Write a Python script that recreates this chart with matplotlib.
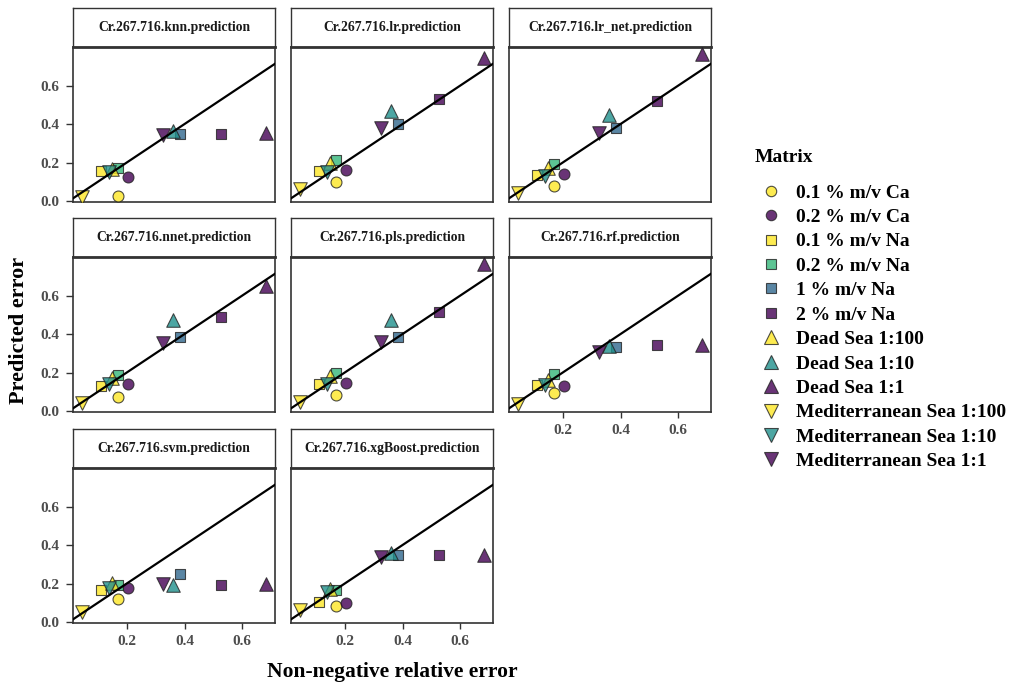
import numpy as np
import matplotlib
matplotlib.use("Agg")
import matplotlib.pyplot as plt
from matplotlib.lines import Line2D

plt.rcParams["font.family"] = ["Liberation Serif", "DejaVu Serif"]
plt.rcParams["font.weight"] = "bold"

# legend order of the matrices
matrices = [
    "0.1 % m/v Ca", "0.2 % m/v Ca",
    "0.1 % m/v Na", "0.2 % m/v Na", "1 % m/v Na", "2 % m/v Na",
    "Dead Sea 1:100", "Dead Sea 1:10", "Dead Sea 1:1",
    "Mediterranean Sea 1:100", "Mediterranean Sea 1:10", "Mediterranean Sea 1:1",
]

# non-negative relative error (x), same for every model
rel_error = [0.169, 0.203, 0.112, 0.170, 0.385, 0.525,
             0.150, 0.360, 0.682, 0.044, 0.140, 0.324]

models = ["knn", "lr", "lr_net", "nnet", "pls", "rf", "svm", "xgBoost"]

# predicted error (y) per model, same order as matrices
pred_knn = [0.026, 0.126, 0.155, 0.169, 0.347, 0.346, 0.168, 0.363, 0.354, 0.022, 0.149, 0.342]
pred_lr = [0.100, 0.161, 0.157, 0.212, 0.402, 0.532, 0.195, 0.468, 0.745, 0.062, 0.152, 0.377]
pred_lr_net = [0.078, 0.140, 0.135, 0.190, 0.377, 0.518, 0.169, 0.449, 0.765, 0.040, 0.130, 0.351]
pred_nnet = [0.074, 0.138, 0.130, 0.187, 0.382, 0.489, 0.169, 0.472, 0.648, 0.043, 0.143, 0.354]
pred_pls = [0.083, 0.147, 0.140, 0.199, 0.385, 0.515, 0.181, 0.472, 0.765, 0.045, 0.143, 0.359]
pred_rf = [0.092, 0.130, 0.135, 0.190, 0.333, 0.342, 0.161, 0.337, 0.345, 0.035, 0.135, 0.307]
pred_svm = [0.122, 0.177, 0.165, 0.194, 0.251, 0.190, 0.203, 0.194, 0.198, 0.053, 0.177, 0.198]
pred_xgb = [0.085, 0.099, 0.103, 0.168, 0.346, 0.346, 0.173, 0.358, 0.350, 0.064, 0.154, 0.336]

predictions = [pred_knn, pred_lr, pred_lr_net, pred_nnet, pred_pls, pred_rf, pred_svm, pred_xgb]

# viridis-like fills and ggplot-ish shapes
fills = ["#FDE725", "#440154",
         "#FDE725", "#35B779", "#31688E", "#440154",
         "#FDE725", "#21908C", "#440154",
         "#FDE725", "#21908C", "#440154"]
shapes = ["o", "o", "s", "s", "s", "s", "^", "^", "^", "v", "v", "v"]
sizes = {"o": 62, "s": 62, "^": 95, "v": 95}

W, H = 1030, 686
fig = plt.figure(figsize=(W / 100, H / 100), dpi=100)

col_left = [73, 291, 509]
strip_top = [8, 218, 429]
pw, strip_h, ph = 202, 39, 155
border = "#333333"


def fig_rect(x, y_top, w, h):
    return [x / W, (H - y_top - h) / H, w / W, h / H]


for i, (model, yv) in enumerate(zip(models, predictions)):
    r, c = divmod(i, 3)
    x0, st = col_left[c], strip_top[r]

    sax = fig.add_axes(fig_rect(x0, st, pw, strip_h))
    sax.set_xticks([])
    sax.set_yticks([])
    for sp in sax.spines.values():
        sp.set_color(border)
        sp.set_linewidth(1.0)
    sax.text(0.5, 0.5, f"Cr.267.716.{model}.prediction", ha="center", va="center",
             fontsize=9.8, color="#1a1a1a", transform=sax.transAxes)

    ax = fig.add_axes(fig_rect(x0, st + strip_h, pw, ph))
    for x, y, f, m in zip(rel_error, yv, fills, shapes):
        ax.scatter(x, y, s=sizes[m], marker=m, c=f, alpha=0.8,
                   edgecolors="#222222", linewidths=0.8, zorder=3)
    ax.axline((0, 0), slope=1, color="black", linewidth=1.6, zorder=4)

    ax.set_xlim(0.014, 0.713)
    ax.set_ylim(-0.005, 0.80)
    ax.set_xticks([0.2, 0.4, 0.6])
    ax.set_yticks([0.0, 0.2, 0.4, 0.6])
    for sp in ax.spines.values():
        sp.set_color(border)
        sp.set_linewidth(1.2)
    ax.spines["top"].set_linewidth(2.0)

    show_y = c == 0
    show_x = (i + 3) >= len(models)
    ax.tick_params(axis="y", length=5 if show_y else 0, width=1, color=border,
                   labelleft=show_y, labelsize=11, labelcolor="#4D4D4D", pad=4.5)
    ax.tick_params(axis="x", length=4.5 if show_x else 0, width=1, color=border,
                   labelbottom=show_x, labelsize=11, labelcolor="#4D4D4D", pad=4)
    ax.set_xticklabels(["0.2", "0.4", "0.6"], fontweight="bold")
    ax.set_yticklabels(["0.0", "0.2", "0.4", "0.6"], fontweight="bold")

fig.text(19 / W, 1 - 330 / H, "Predicted error", rotation=90, ha="center", va="center",
         fontsize=16, fontweight="bold")
fig.text(392 / W, 1 - 672 / H, "Non-negative relative error", ha="center", va="center",
         fontsize=15.5, fontweight="bold")

fig.text(755 / W, 1 - 157 / H, "Matrix", ha="left", va="center",
         fontsize=14, fontweight="bold")
handles = [
    Line2D([0], [0], marker=m, linestyle="None", markerfacecolor=f, alpha=0.8,
           markeredgecolor="#222222", markeredgewidth=0.8,
           markersize=7.5 if m in "os" else 9.5, label=lab)
    for lab, f, m in zip(matrices, fills, shapes)
]
fig.legend(handles=handles, loc="upper left", bbox_to_anchor=(759 / W, 1 - 184 / H),
           frameon=False, fontsize=14, borderpad=0, borderaxespad=0,
           handlelength=1.2, labelspacing=0.35, handletextpad=0.72)

fig.savefig("out.png", dpi=100)
